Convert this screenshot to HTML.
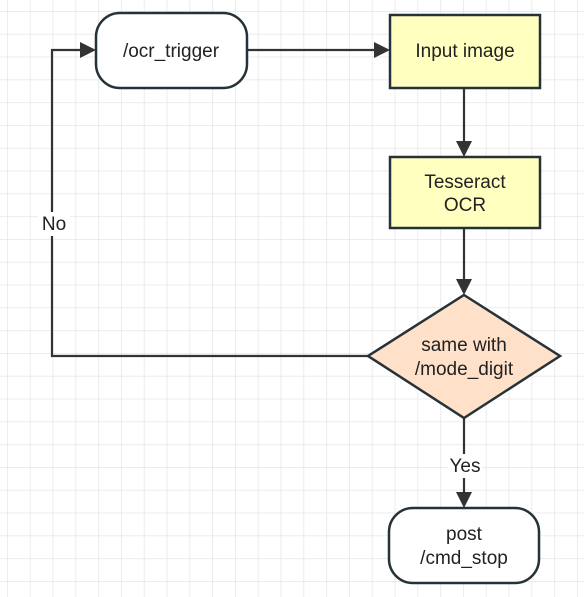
<!DOCTYPE html>
<html><head><style>
html,body{margin:0;padding:0;background:#fff;}
svg{display:block;}
text{font-family:"Liberation Sans",sans-serif;font-size:19px;fill:#222;text-anchor:middle;}
</style></head><body>
<svg width="584" height="597" viewBox="0 0 584 597" xmlns="http://www.w3.org/2000/svg">
<defs>
<pattern id="g" x="7" y="11" width="22.8" height="22.8" patternUnits="userSpaceOnUse">
<path d="M0 0V22.8M0 0H22.8" stroke="#e6e6e6" stroke-width="1.5" fill="none"/>
</pattern>
</defs>
<rect width="584" height="597" fill="url(#g)"/>
<g stroke="#333" stroke-width="2.2" fill="none">
<path d="M247 50H378"/>
<line x1="464" y1="88" x2="464" y2="147"/>
<line x1="464" y1="228" x2="464" y2="285"/>
<line x1="464" y1="418" x2="464" y2="498"/>
<path d="M368 356H52V50H86"/>
</g>
<g fill="#333">
<path d="M374 42L390 50L374 58z"/>
<path d="M456 141L464 157L472 141z"/>
<path d="M456 279L464 295L472 279z"/>
<path d="M456 492L464 508L472 492z"/>
<path d="M80 42L96 50L80 58z"/>
</g>
<g stroke="#263238" stroke-width="2.5">
<rect x="96" y="13" width="151" height="75" rx="24" fill="#fff"/>
<rect x="390" y="15" width="150" height="73" fill="#ffffc0"/>
<rect x="390" y="157" width="150" height="71" fill="#ffffc0"/>
<path d="M464 295L560 356L464 418L368 356z" fill="#ffe0c8"/>
<rect x="389" y="508" width="150" height="75" rx="24" fill="#fff"/>
</g>
<rect x="38" y="212" width="32" height="24" fill="#fff"/>
<rect x="448" y="454" width="34" height="24" fill="#fff"/>
<text x="171" y="57">/ocr_trigger</text>
<text x="465" y="57">Input image</text>
<text x="465" y="188">Tesseract</text>
<text x="465" y="211">OCR</text>
<text x="464" y="351">same with</text>
<text x="464" y="375">/mode_digit</text>
<text x="464" y="540">post</text>
<text x="464" y="564">/cmd_stop</text>
<text x="54" y="230">No</text>
<text x="465" y="472">Yes</text>
</svg>
</body></html>
